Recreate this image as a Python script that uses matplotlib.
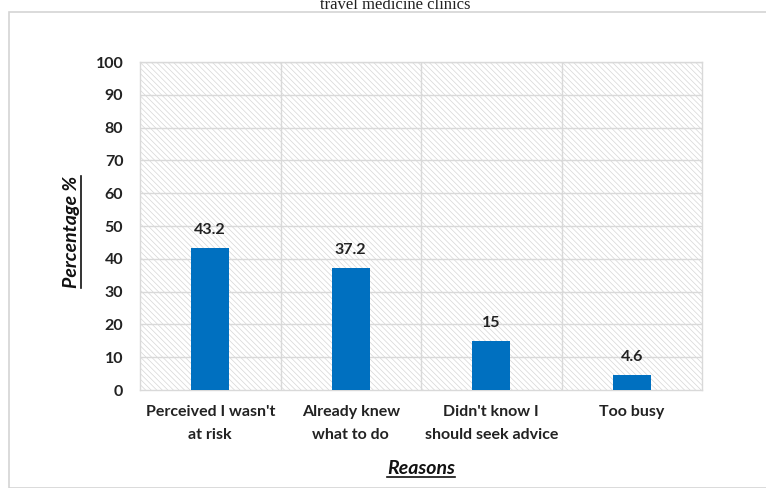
import numpy as np
import matplotlib
matplotlib.use('Agg')
import matplotlib.pyplot as plt
from matplotlib.patches import Rectangle
from matplotlib.lines import Line2D

categories = ["Perceived I wasn't\nat risk", "Already knew\nwhat to do",
              "Didn't know I\nshould seek advice", "Too busy"]
percentages = [43.2, 37.2, 15, 4.6]
value_labels = ["43.2", "37.2", "15", "4.6"]
y_ticks = list(range(0, 101, 10))

BAR_COLOR = '#0070C0'
GRID_COLOR = '#d9d9d9'
FONT = ['Lato', 'DejaVu Sans']

plt.rcParams['font.family'] = FONT
plt.rcParams['hatch.linewidth'] = 0.5

W, H = 766, 488
fig = plt.figure(figsize=(W / 100, H / 100), dpi=100)
fig.patch.set_facecolor('white')

# outer chart frame (cut by the image edges)
fig.patches.append(Rectangle((9 / W, 0), 1, 1 - 12 / H, transform=fig.transFigure,
                             fill=False, edgecolor='#d4d4d4', linewidth=1.2))

# truncated caption text at the top
fig.text(395 / W, 1 - 9 / H, 'travel medicine clinics', ha='center', va='baseline',
         family=['Liberation Serif', 'DejaVu Serif'], fontsize=12, color='#222222')

ax = fig.add_axes([140 / W, 1 - 390 / H, 562 / W, 328 / H])
ax.set_xlim(-0.5, len(categories) - 0.5)
ax.set_ylim(0, 100)

# hatched plot area
ax.add_patch(Rectangle((0, 0), 1, 1, transform=ax.transAxes, facecolor='white',
                       edgecolor='#d6d6d6', linewidth=0, hatch='\\' * 6, zorder=0))

x = np.arange(len(categories))
bars = ax.bar(x, percentages, width=0.27, color=BAR_COLOR, zorder=3)
for b, lab in zip(bars, value_labels):
    ax.annotate(lab, (b.get_x() + b.get_width() / 2, b.get_height()),
                xytext=(0, 8), textcoords='offset points', ha='center', va='bottom',
                fontsize=11.5, fontweight='bold', color='#222222')

# grid: horizontal at every tick, vertical between categories
ax.set_yticks(y_ticks)
for yv in y_ticks[1:]:
    ax.axhline(yv, color=GRID_COLOR, linewidth=1.0, zorder=1)
for xv in x[:-1] + 0.5:
    ax.axvline(xv, color=GRID_COLOR, linewidth=1.0, zorder=1)

ax.set_xticks(x)
ax.set_xticklabels(categories, fontsize=11.5, fontweight='bold', color='#222222',
                   linespacing=1.75)
ax.set_yticklabels([str(v) for v in y_ticks], fontsize=11.5, fontweight='bold',
                   color='#222222')
ax.tick_params(length=0)
ax.tick_params(axis='x', pad=11)
ax.tick_params(axis='y', pad=12)
for s in ax.spines.values():
    s.set_color(GRID_COLOR)
    s.set_linewidth(1.0)

# underlined italic bold axis titles
xl = fig.text(421 / W, 1 - 469 / H, 'Reasons', ha='center', va='center',
              fontsize=14, fontweight='bold', fontstyle='italic', color='#111111')
yl = fig.text(71 / W, 1 - 232 / H, 'Percentage %', ha='center', va='center',
              rotation=90, fontsize=14, fontweight='bold', fontstyle='italic',
              color='#111111')

fig.canvas.draw()
r = fig.canvas.get_renderer()
bb = xl.get_window_extent(r)
fig.lines.append(Line2D([bb.x0 / W, bb.x1 / W], [(bb.y0 + 1) / H, (bb.y0 + 1) / H],
                        transform=fig.transFigure, color='#111111', linewidth=1.2))
bb = yl.get_window_extent(r)
fig.lines.append(Line2D([(bb.x1 + 1) / W, (bb.x1 + 1) / W], [bb.y0 / H, bb.y1 / H],
                        transform=fig.transFigure, color='#111111', linewidth=1.2))

fig.savefig('out.png', dpi=100)
